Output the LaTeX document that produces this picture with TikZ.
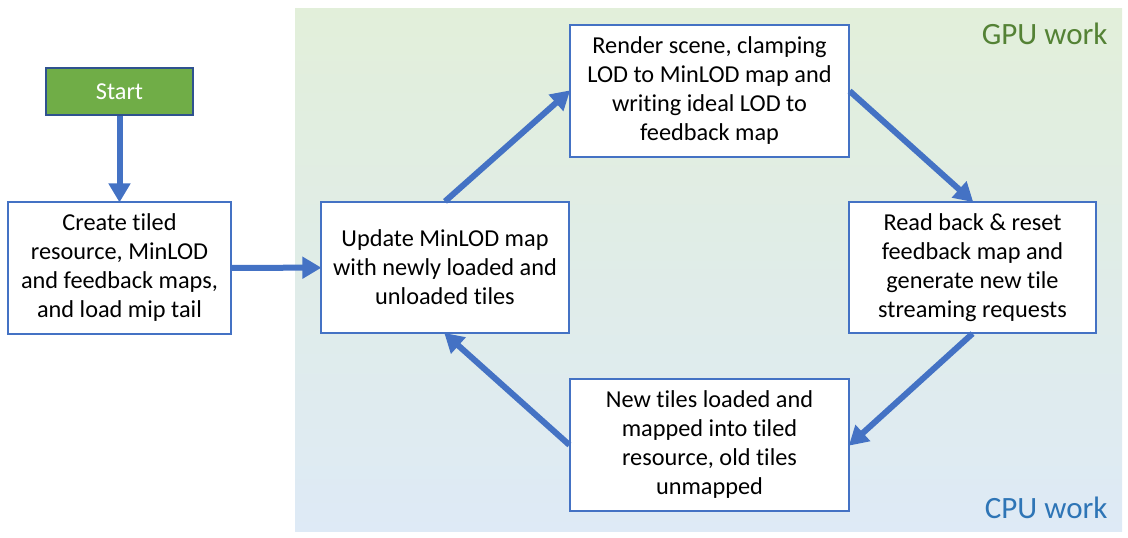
\documentclass[tikz,border=0pt]{standalone}
\usepackage{fontspec}
\setmainfont{Carlito}[Ligatures=NoCommon]
\usetikzlibrary{arrows.meta, calc}

\definecolor{boxblue}{HTML}{4472C4}
\definecolor{startgreen}{HTML}{70AD47}
\definecolor{startedge}{HTML}{2F528F}
\definecolor{gpugreen}{HTML}{548235}
\definecolor{cpublue}{HTML}{2E75B6}
\definecolor{bgtop}{HTML}{E2EFDA}
\definecolor{bgbottom}{HTML}{DEEAF6}

\begin{document}
\begin{tikzpicture}[x=1pt, y=-1pt,
    stepbox/.style={draw=boxblue, line width=1.2pt, fill=white, align=center,
      inner sep=0pt, font=\fontsize{24.3}{29}\selectfont},
    flow/.style={draw=boxblue, line width=6pt,
      -{Triangle[length=19pt, width=21pt]}, shorten >=-1pt},
    worklabel/.style={font=\fontsize{31}{36}\selectfont, anchor=base east}]
      \useasboundingbox (0,0) rectangle (1128,538);

      % work areas
      \shade [top color=bgtop, bottom color=bgbottom] (295,8) rectangle (1122,531);
      \node [worklabel, text=gpugreen] (gpu) at (1111,44) {GPU work};
      \node [worklabel, text=cpublue] (cpu) at (1111,518) {CPU work};

      \node [draw=startedge, line width=1.2pt, fill=startgreen, text=white,
        minimum width=147pt, minimum height=47pt, inner sep=0pt,
        font=\fontsize{24.3}{29}\selectfont] (start) at (119.5,91.5) {Start};

      \node [stepbox, minimum width=223pt, minimum height=132pt] (create) at (119.5,268)
        {Create tiled\\resource, MinLOD\\and feedback maps,\\and load mip tail};
      \node [stepbox, minimum width=248pt, minimum height=131pt] (update) at (445,267.5)
        {Update MinLOD map\\with newly loaded and\\unloaded tiles};
      \node [stepbox, minimum width=279pt, minimum height=132pt] (render) at (709.5,91)
        {Render scene, clamping\\LOD to MinLOD map and\\writing ideal LOD to\\feedback map};
      \node [stepbox, minimum width=247pt, minimum height=131pt] (readback) at (972.5,267.5)
        {Read back \& reset\\feedback map and\\generate new tile\\streaming requests};
      \node [stepbox, minimum width=279pt, minimum height=132pt] (newtiles) at (709.5,445)
        {New tiles loaded and\\mapped into tiled\\resource, old tiles\\unmapped};

      \draw [flow] (start) -- (create);
      \draw [flow] (create) -- (update);
      \draw [flow] (update.north) -- (render.west);
      \draw [flow] (render.east) -- (readback.north);
      \draw [flow] (readback.south) -- (newtiles.east);
      \draw [flow] (newtiles.west) -- (update.south);
\end{tikzpicture}
\end{document}
